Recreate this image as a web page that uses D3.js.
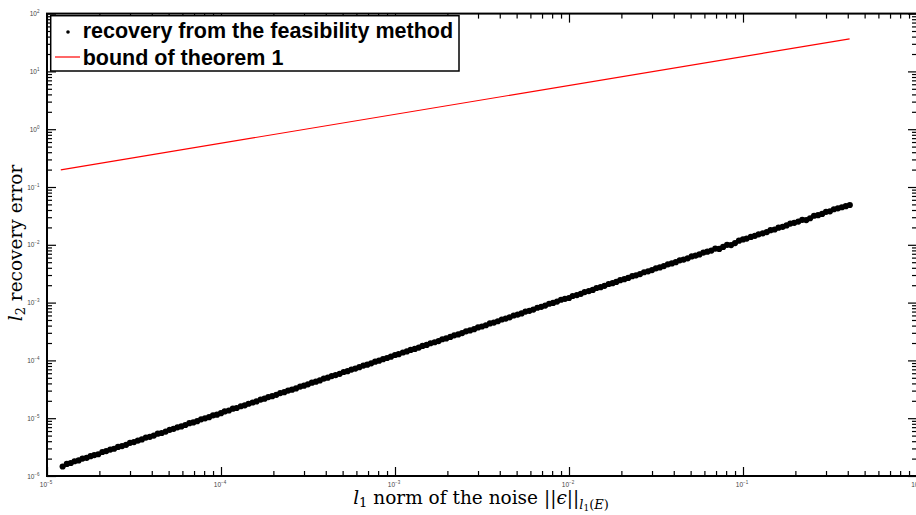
<!DOCTYPE html>
<html>
<head>
<meta charset="utf-8">
<script src="https://cdnjs.cloudflare.com/ajax/libs/d3/7.8.5/d3.min.js"></script>
<style>
  body { margin: 0; background: #fff; }
</style>
</head>
<body>
<div id="chart"></div>
<script>
// Data
//=====================================================================
// l1 norm of the noise (x) for each recovery run
var noiseNorm = [
  1.23e-5, 1.30e-5, 1.37e-5, 1.44e-5, 1.52e-5, 1.60e-5, 1.69e-5, 1.78e-5, 1.87e-5, 1.97e-5,
  2.08e-5, 2.19e-5, 2.31e-5, 2.43e-5, 2.56e-5, 2.70e-5, 2.85e-5, 3.00e-5, 3.16e-5, 3.33e-5,
  3.51e-5, 3.70e-5, 3.90e-5, 4.11e-5, 4.33e-5, 4.56e-5, 4.81e-5, 5.07e-5, 5.34e-5, 5.62e-5,
  5.92e-5, 6.24e-5, 6.58e-5, 6.93e-5, 7.30e-5, 7.69e-5, 8.10e-5, 8.54e-5, 9.00e-5, 9.48e-5,
  1.00e-4, 1.05e-4, 1.11e-4, 1.17e-4, 1.23e-4, 1.30e-4, 1.37e-4, 1.44e-4, 1.52e-4, 1.60e-4,
  1.69e-4, 1.78e-4, 1.87e-4, 1.97e-4, 2.08e-4, 2.19e-4, 2.31e-4, 2.43e-4, 2.56e-4, 2.70e-4,
  2.85e-4, 3.00e-4, 3.16e-4, 3.33e-4, 3.51e-4, 3.70e-4, 3.90e-4, 4.11e-4, 4.33e-4, 4.56e-4,
  4.81e-4, 5.07e-4, 5.34e-4, 5.62e-4, 5.92e-4, 6.24e-4, 6.58e-4, 6.93e-4, 7.30e-4, 7.69e-4,
  8.10e-4, 8.54e-4, 9.00e-4, 9.48e-4,
  1.00e-3, 1.05e-3, 1.11e-3, 1.17e-3, 1.23e-3, 1.30e-3, 1.37e-3, 1.44e-3, 1.52e-3, 1.60e-3,
  1.69e-3, 1.78e-3, 1.87e-3, 1.97e-3, 2.08e-3, 2.19e-3, 2.31e-3, 2.43e-3, 2.56e-3, 2.70e-3,
  2.85e-3, 3.00e-3, 3.16e-3, 3.33e-3, 3.51e-3, 3.70e-3, 3.90e-3, 4.11e-3, 4.33e-3, 4.56e-3,
  4.81e-3, 5.07e-3, 5.34e-3, 5.62e-3, 5.92e-3, 6.24e-3, 6.58e-3, 6.93e-3, 7.30e-3, 7.69e-3,
  8.10e-3, 8.54e-3, 9.00e-3, 9.48e-3,
  1.00e-2, 1.05e-2, 1.11e-2, 1.17e-2, 1.23e-2, 1.30e-2, 1.37e-2, 1.44e-2, 1.52e-2, 1.60e-2,
  1.69e-2, 1.78e-2, 1.87e-2, 1.97e-2, 2.08e-2, 2.19e-2, 2.31e-2, 2.43e-2, 2.56e-2, 2.70e-2,
  2.85e-2, 3.00e-2, 3.16e-2, 3.33e-2, 3.51e-2, 3.70e-2, 3.90e-2, 4.11e-2, 4.33e-2, 4.56e-2,
  4.81e-2, 5.07e-2, 5.34e-2, 5.62e-2, 5.92e-2, 6.24e-2, 6.58e-2, 6.93e-2, 7.30e-2, 7.69e-2,
  8.10e-2, 8.54e-2, 9.00e-2, 9.48e-2,
  1.00e-1, 1.05e-1, 1.11e-1, 1.17e-1, 1.23e-1, 1.30e-1, 1.37e-1, 1.44e-1, 1.52e-1, 1.60e-1,
  1.69e-1, 1.78e-1, 1.87e-1, 1.97e-1, 2.08e-1, 2.19e-1, 2.31e-1, 2.43e-1, 2.56e-1, 2.70e-1,
  2.85e-1, 3.00e-1, 3.16e-1, 3.33e-1, 3.51e-1, 3.70e-1, 3.90e-1, 4.11e-1
];

// l2 recovery error (y) of the feasibility method, same order
var recoveryError = [
  1.46e-6, 1.62e-6, 1.68e-6, 1.80e-6, 1.86e-6, 2.00e-6, 2.06e-6, 2.20e-6, 2.30e-6, 2.38e-6,
  2.60e-6, 2.70e-6, 2.86e-6, 2.96e-6, 3.18e-6, 3.30e-6, 3.46e-6, 3.75e-6, 3.86e-6, 4.10e-6,
  4.30e-6, 4.62e-6, 4.76e-6, 5.00e-6, 5.40e-6, 5.55e-6, 5.86e-6, 6.30e-6, 6.55e-6, 6.95e-6,
  7.20e-6, 7.62e-6, 8.20e-6, 8.45e-6, 8.90e-6, 9.55e-6, 9.95e-6, 1.04e-5, 1.12e-5, 1.15e-5,
  1.22e-5, 1.31e-5, 1.36e-5, 1.46e-5, 1.50e-5, 1.61e-5, 1.67e-5, 1.78e-5, 1.87e-5, 1.95e-5,
  2.10e-5, 2.18e-5, 2.32e-5, 2.40e-5, 2.54e-5, 2.72e-5, 2.82e-5, 3.00e-5, 3.12e-5, 3.28e-5,
  3.52e-5, 3.66e-5, 3.85e-5, 4.12e-5, 4.28e-5, 4.50e-5, 4.85e-5, 5.02e-5, 5.36e-5, 5.58e-5,
  5.86e-5, 6.30e-5, 6.52e-5, 6.95e-5, 7.22e-5, 7.62e-5, 8.15e-5, 8.45e-5, 8.90e-5, 9.50e-5,
  9.90e-5, 1.05e-4, 1.10e-4, 1.16e-4,
  1.24e-4, 1.28e-4, 1.37e-4, 1.43e-4, 1.52e-4, 1.58e-4, 1.67e-4, 1.78e-4, 1.85e-4, 1.98e-4,
  2.06e-4, 2.16e-4, 2.32e-4, 2.40e-4, 2.55e-4, 2.71e-4, 2.81e-4, 2.97e-4, 3.18e-4, 3.30e-4,
  3.47e-4, 3.72e-4, 3.86e-4, 4.06e-4, 4.36e-4, 4.52e-4, 4.76e-4, 5.10e-4, 5.30e-4, 5.56e-4,
  5.98e-4, 6.20e-4, 6.50e-4, 7.00e-4, 7.22e-4, 7.58e-4, 8.15e-4, 8.45e-4, 8.88e-4, 9.55e-4,
  9.88e-4, 1.04e-3, 1.12e-3, 1.16e-3,
  1.20e-3, 1.30e-3, 1.35e-3, 1.42e-3, 1.52e-3, 1.58e-3, 1.66e-3, 1.79e-3, 1.85e-3, 1.95e-3,
  2.10e-3, 2.17e-3, 2.28e-3, 2.44e-3, 2.54e-3, 2.67e-3, 2.86e-3, 2.96e-3, 3.12e-3, 3.35e-3,
  3.47e-3, 3.65e-3, 3.92e-3, 4.06e-3, 4.28e-3, 4.60e-3, 4.76e-3, 5.00e-3, 5.38e-3, 5.56e-3,
  5.84e-3, 6.30e-3, 6.50e-3, 6.82e-3, 7.35e-3, 7.60e-3, 7.95e-3, 8.60e-3, 8.50e-3, 9.20e-3,
  1.00e-2, 9.90e-3, 1.07e-2, 1.18e-2,
  1.24e-2, 1.28e-2, 1.37e-2, 1.43e-2, 1.52e-2, 1.58e-2, 1.66e-2, 1.79e-2, 1.84e-2, 1.98e-2,
  2.05e-2, 2.16e-2, 2.33e-2, 2.40e-2, 2.52e-2, 2.70e-2, 2.68e-2, 2.88e-2, 3.18e-2, 3.26e-2,
  3.42e-2, 3.72e-2, 3.80e-2, 4.12e-2, 4.28e-2, 4.46e-2, 4.66e-2, 4.88e-2
];

// bound of theorem 1 (straight line in log-log), end points
var boundNoise = [1.2e-5, 0.41];
var boundError = [0.198, 36.6];

// decade exponents for tick labels
var xTickExps = [-5, -4, -3, -2, -1, 0];
var yTickExps = [-6, -5, -4, -3, -2, -1, 0, 1, 2];

var legendLabels = ["recovery from the feasibility method", "bound of theorem 1"];

// Set up chart area
//=====================================================================
var svgWidth = 916;
var svgHeight = 515;

var plotLeft = 47, plotRight = 917, plotTop = 13.6, plotBottom = 476;

var svg = d3.select("#chart")
    .append("svg")
    .attr("width", svgWidth)
    .attr("height", svgHeight)
    .style("display", "block");

var xScale = d3.scaleLog().domain([1e-5, 1]).range([plotLeft, plotRight]);
var yScale = d3.scaleLog().domain([1e-6, 1e2]).range([plotBottom, plotTop]);

var xMajor = xTickExps.map(e => Math.pow(10, e));
var yMajor = yTickExps.map(e => Math.pow(10, e));
var xMinor = [], yMinor = [];
xTickExps.slice(0, -1).forEach(e => { for (var m = 2; m <= 9; m++) xMinor.push(m * Math.pow(10, e)); });
yTickExps.slice(0, -1).forEach(e => { for (var m = 2; m <= 9; m++) yMinor.push(m * Math.pow(10, e)); });

// Axes: ticks point inwards on all four sides
//=====================================================================
function drawAxis(axisFn, scale, transform, values, size) {
    var g = svg.append("g")
        .attr("transform", transform)
        .call(axisFn(scale).tickValues(values).tickSize(size).tickSizeOuter(0).tickFormat(""));
    g.select(".domain").remove();
    g.selectAll("line").attr("stroke", "#000").attr("stroke-width", 1.2);
    return g;
}

drawAxis(d3.axisBottom, xScale, `translate(0,${plotBottom})`, xMajor, -9);
drawAxis(d3.axisBottom, xScale, `translate(0,${plotBottom})`, xMinor, -5);
drawAxis(d3.axisTop, xScale, `translate(0,${plotTop})`, xMajor, -9);
drawAxis(d3.axisTop, xScale, `translate(0,${plotTop})`, xMinor, -5);
drawAxis(d3.axisLeft, yScale, `translate(${plotLeft},0)`, yMajor, -9);
drawAxis(d3.axisLeft, yScale, `translate(${plotLeft},0)`, yMinor, -5);
drawAxis(d3.axisRight, yScale, `translate(${plotRight},0)`, yMajor, -9);
drawAxis(d3.axisRight, yScale, `translate(${plotRight},0)`, yMinor, -5);

// box
svg.append("rect")
    .attr("x", plotLeft)
    .attr("y", plotTop)
    .attr("width", plotRight - plotLeft)
    .attr("height", plotBottom - plotTop)
    .attr("fill", "none")
    .attr("stroke", "#000")
    .attr("stroke-width", 2);

// tick labels 10^k
var xLab = svg.append("g").selectAll("text")
    .data(xTickExps)
    .enter()
    .append("text")
    .attr("x", d => xScale(Math.pow(10, d)) - 1)
    .attr("y", 486.5)
    .attr("text-anchor", "middle")
    .attr("font-family", "Liberation Sans, Arial, sans-serif")
    .attr("font-size", "6.5px")
    .attr("fill", "#444");
xLab.append("tspan").text("10");
xLab.append("tspan").attr("dy", -3).attr("font-size", "4.5px").text(d => d < 0 ? "\u2212" + (-d) : d);

var yLab = svg.append("g").selectAll("text")
    .data(yTickExps)
    .enter()
    .append("text")
    .attr("x", 39.5)
    .attr("y", d => yScale(Math.pow(10, d)) + 2.5)
    .attr("text-anchor", "end")
    .attr("font-family", "Liberation Sans, Arial, sans-serif")
    .attr("font-size", "6.5px")
    .attr("fill", "#444");
yLab.append("tspan").text("10");
yLab.append("tspan").attr("dy", -3).attr("font-size", "4.5px").text(d => d < 0 ? "\u2212" + (-d) : d);

// Marks
//=====================================================================
var line = d3.line()
    .x(d => xScale(d[0]))
    .y(d => yScale(d[1]));

svg.append("path")
    .datum(boundNoise.map((v, i) => [v, boundError[i]]))
    .attr("d", line)
    .attr("fill", "none")
    .attr("stroke", "#ff0000")
    .attr("stroke-width", 1.2);

svg.append("g")
    .selectAll("circle")
    .data(noiseNorm.map((v, i) => [v, recoveryError[i]]))
    .enter()
    .append("circle")
    .attr("cx", d => xScale(d[0]))
    .attr("cy", d => yScale(d[1]))
    .attr("r", 3.1)
    .attr("fill", "#000");

// Legend
//=====================================================================
var legend = svg.append("g");
legend.append("rect")
    .attr("x", 50.7)
    .attr("y", 15.7)
    .attr("width", 408.3)
    .attr("height", 55.3)
    .attr("fill", "#fff")
    .attr("stroke", "#000")
    .attr("stroke-width", 1.5);
legend.append("circle")
    .attr("cx", 68)
    .attr("cy", 32)
    .attr("r", 1.8)
    .attr("fill", "#000");
legend.append("line")
    .attr("x1", 55).attr("x2", 80)
    .attr("y1", 57).attr("y2", 57)
    .attr("stroke", "#ff0000")
    .attr("stroke-width", 1.2);
legend.selectAll("text.leg")
    .data(legendLabels)
    .enter()
    .append("text")
    .attr("class", "leg")
    .attr("x", 82.7)
    .attr("y", (d, i) => 38 + i * 26.5)
    .attr("font-family", "Liberation Sans, Arial, sans-serif")
    .attr("font-weight", "bold")
    .attr("font-size", "21.5px")
    .attr("fill", "#000")
    .text(d => d);

// Axis titles
//=====================================================================
var serif = "DejaVu Serif, Liberation Serif, serif";

var xTitle = svg.append("text")
    .attr("x", 481)
    .attr("y", 504)
    .attr("text-anchor", "middle")
    .attr("font-family", serif)
    .attr("font-size", "18.5px")
    .attr("fill", "#000");
xTitle.append("tspan").attr("font-style", "italic").text("l");
xTitle.append("tspan").attr("font-size", "13px").attr("dy", 3).text("1");
xTitle.append("tspan").attr("dy", -3).text(" norm of the noise ||");
xTitle.append("tspan").attr("font-style", "italic").text("ϵ");
xTitle.append("tspan").text("||");
xTitle.append("tspan").attr("font-style", "italic").attr("font-size", "13px").attr("dy", 5).text("l");
xTitle.append("tspan").attr("font-size", "9px").attr("dy", 2).text("1");
xTitle.append("tspan").attr("font-size", "13px").attr("dy", -2).text("(");
xTitle.append("tspan").attr("font-style", "italic").attr("font-size", "13px").text("E");
xTitle.append("tspan").attr("font-size", "13px").text(")");

var yTitle = svg.append("text")
    .attr("transform", "translate(22,243) rotate(-90)")
    .attr("text-anchor", "middle")
    .attr("font-family", serif)
    .attr("font-size", "18.5px")
    .attr("fill", "#000");
yTitle.append("tspan").attr("font-style", "italic").text("l");
yTitle.append("tspan").attr("font-size", "13px").attr("dy", 3).text("2");
yTitle.append("tspan").attr("dy", -3).text(" recovery error");
</script>
</body>
</html>
